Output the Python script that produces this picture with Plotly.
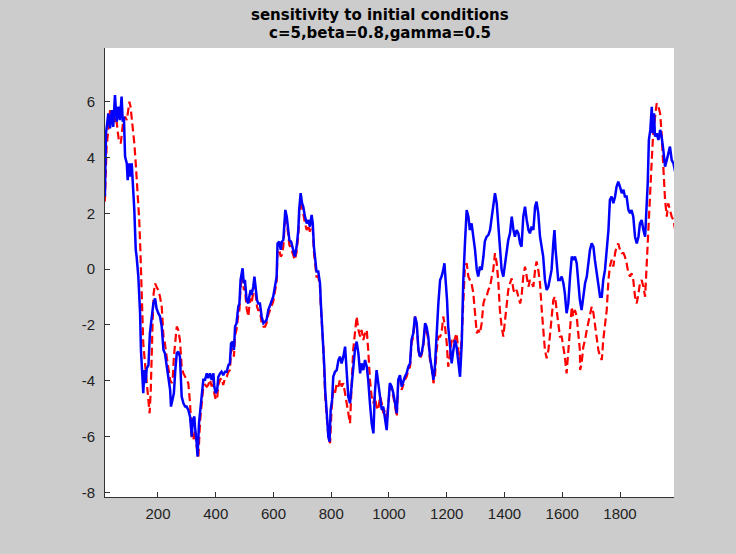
import plotly.graph_objects as go

# Trajectory 1 (solid blue): (time step, state value)
blue_points = [
    (16, 2.60), (20, 4.87), (28, 5.58), (34, 5.04), (40, 5.70), (45, 5.10), (51, 6.24),
    (57, 5.28), (63, 5.82), (68, 5.34), (74, 6.18), (78, 5.28), (82, 5.46), (86, 4.03),
    (92, 3.79), (95, 3.19), (101, 3.79), (105, 3.31), (109, 3.79), (115, 2.72), (118, 2.12),
    (123, 0.69), (126, 0.45), (132, -0.27), (138, -1.58), (141, -2.90), (145, -3.86),
    (149, -4.45), (153, -3.62), (157, -4.09), (161, -3.56), (167, -3.44), (172, -2.30),
    (178, -1.82), (184, -1.23), (190, -1.05), (195, -1.41), (201, -1.58), (207, -1.70),
    (213, -2.06), (219, -2.90), (224, -3.02), (230, -3.50), (236, -3.86), (242, -4.33),
    (245, -4.93), (251, -4.69), (255, -4.45), (260, -3.62), (265, -3.02), (270, -2.96),
    (276, -3.14), (282, -4.57), (288, -4.81), (294, -4.93), (299, -4.93), (305, -5.05),
    (311, -5.29), (317, -6.01), (320, -5.41), (326, -5.29), (328, -5.65), (334, -6.24),
    (337, -6.72), (342, -5.53), (349, -4.81), (354, -4.45), (357, -3.97), (363, -3.97),
    (369, -3.74), (374, -3.91), (380, -3.74), (386, -3.97), (392, -3.74), (395, -4.21),
    (400, -4.45), (405, -4.33), (409, -3.86), (415, -3.74), (420, -3.68), (426, -3.80),
    (432, -3.68), (438, -3.68), (444, -3.44), (449, -3.38), (453, -2.66), (459, -2.60),
    (463, -2.90), (467, -2.06), (472, -1.94), (478, -1.35), (482, -1.23), (486, -0.39),
    (490, -0.03), (493, 0.03), (497, -0.51), (501, -0.39), (507, -1.11), (513, -1.23),
    (516, -0.99), (521, -0.75), (524, -0.93), (530, -0.63), (534, -0.27), (538, -0.63),
    (543, -1.11), (547, -1.23), (553, -1.23), (559, -1.70), (565, -1.94), (571, -1.88),
    (576, -1.82), (582, -1.47), (588, -1.29), (594, -1.11), (599, -0.99), (605, -0.63),
    (611, -0.27), (614, 0.92), (620, 0.98), (625, 0.69), (629, 0.98), (634, 1.04),
    (637, 1.76), (641, 2.12), (646, 1.88), (651, 1.40), (655, 1.04), (661, 0.98),
    (665, 0.80), (670, 0.69), (674, 0.45), (680, 0.80), (686, 1.40), (689, 2.12),
    (694, 2.72), (699, 2.36), (703, 2.24), (709, 1.88), (715, 1.64), (721, 1.76),
    (726, 1.52), (732, 1.94), (736, 1.64), (740, 0.80), (745, 0.33), (749, -0.09),
    (755, -0.09), (761, -0.51), (764, -1.23), (768, -1.94), (773, -2.78), (776, -3.50),
    (779, -4.33), (784, -5.17), (790, -6.01), (794, -6.19), (798, -5.05), (803, -4.69),
    (807, -3.86), (813, -3.68), (819, -3.62), (825, -3.26), (830, -3.14), (836, -3.38),
    (842, -3.14), (848, -2.78), (853, -3.62), (859, -4.57), (865, -4.81), (871, -4.09),
    (876, -3.62), (882, -2.90), (888, -2.60), (894, -3.02), (900, -3.74), (905, -3.38),
    (911, -3.62), (917, -3.26), (923, -3.50), (928, -3.97), (934, -4.81), (940, -5.53),
    (946, -5.89), (951, -4.45), (957, -3.62), (963, -4.09), (969, -4.69), (975, -5.05),
    (980, -4.93), (986, -5.29), (992, -5.77), (998, -4.81), (1003, -4.09), (1009, -4.21),
    (1015, -4.45), (1021, -4.81), (1027, -5.17), (1032, -3.97), (1038, -3.80), (1044, -4.21),
    (1050, -3.97), (1055, -3.86), (1061, -3.74), (1067, -3.50), (1073, -3.38), (1078, -2.54),
    (1084, -2.30), (1090, -1.70), (1096, -1.94), (1102, -2.90), (1107, -3.14), (1113, -3.02),
    (1119, -2.66), (1125, -1.94), (1130, -2.06), (1136, -2.42), (1142, -3.14), (1148, -3.62),
    (1154, -3.97), (1159, -3.50), (1165, -2.18), (1171, -1.23), (1177, -0.39), (1182, -0.27),
    (1188, -0.03), (1192, 0.21), (1196, -0.39), (1201, -1.11), (1205, -2.06), (1211, -2.78),
    (1217, -3.38), (1223, -2.90), (1229, -2.54), (1234, -2.78), (1240, -3.38), (1246, -3.86),
    (1252, -2.66), (1257, -0.51), (1263, 0.92), (1269, 2.12), (1275, 1.88), (1280, 1.40),
    (1286, 1.64), (1292, 1.16), (1298, 0.69), (1304, -0.03), (1309, -0.27), (1315, 0.09),
    (1321, -0.03), (1327, 0.45), (1332, 1.00), (1338, 1.16), (1344, 1.22), (1350, 1.40),
    (1356, 1.88), (1361, 2.24), (1367, 2.72), (1373, 2.36), (1379, 1.40), (1384, 0.80),
    (1390, -0.03), (1396, -0.27), (1402, 0.21), (1407, 0.69), (1413, 1.04), (1419, 1.28),
    (1425, 1.88), (1431, 1.40), (1436, 1.16), (1442, 1.40), (1448, 1.28), (1454, 0.92),
    (1459, 0.80), (1465, 1.88), (1471, 2.24), (1477, 1.76), (1483, 1.40), (1488, 1.28),
    (1494, 1.52), (1500, 1.40), (1506, 2.24), (1511, 2.42), (1517, 2.00), (1523, 1.16),
    (1529, 0.80), (1534, 0.45), (1540, -0.39), (1546, -0.75), (1552, -0.63), (1557, -0.39),
    (1563, -0.03), (1569, 0.92), (1573, 1.40), (1577, 0.69), (1581, 0.09), (1586, -0.39),
    (1592, -0.39), (1598, -0.27), (1604, -0.51), (1609, -0.87), (1615, -1.58), (1621, -1.23),
    (1627, -0.27), (1633, 0.45), (1638, 0.33), (1644, 0.45), (1650, 0.21), (1656, -0.51),
    (1661, -1.11), (1667, -1.47), (1673, -0.87), (1679, -0.51), (1685, -0.27), (1690, 0.09),
    (1696, 0.69), (1702, 0.92), (1708, 0.80), (1713, 0.33), (1719, -0.15), (1725, -0.63),
    (1731, -0.99), (1737, -0.99), (1742, -0.39), (1748, -0.03), (1754, 0.57), (1760, 1.40),
    (1765, 2.48), (1771, 2.60), (1777, 2.36), (1783, 2.60), (1788, 2.95), (1794, 3.13),
    (1800, 2.95), (1806, 2.72), (1812, 2.84), (1817, 2.60), (1823, 2.60), (1829, 2.12),
    (1835, 2.00), (1840, 2.12), (1846, 1.88), (1852, 1.16), (1858, 0.92), (1864, 1.16),
    (1869, 1.64), (1875, 1.76), (1881, 1.40), (1887, 1.16), (1892, 2.24), (1896, 3.07),
    (1900, 4.63), (1905, 4.99), (1910, 5.82), (1913, 4.87), (1918, 5.58), (1921, 4.75),
    (1927, 4.87), (1933, 4.63), (1939, 4.99), (1944, 4.75), (1950, 4.27), (1956, 3.67),
    (1962, 3.91), (1967, 4.15), (1973, 4.39), (1979, 3.91), (1985, 3.79), (1991, 3.49),
]

# Trajectory 2 (dashed red), started from a slightly perturbed initial condition
red_points = [
    (16, 2.42), (22, 4.39), (28, 4.99), (34, 5.70), (37, 5.22), (43, 5.58), (49, 5.28),
    (55, 5.46), (60, 4.99), (65, 4.57), (71, 4.51), (75, 4.99), (80, 5.34), (86, 5.46),
    (92, 5.34), (97, 5.70), (101, 6.00), (105, 5.82), (110, 5.34), (115, 4.99), (118, 4.51),
    (123, 3.79), (126, 3.31), (131, 2.48), (135, 1.76), (139, 0.69), (142, -0.51),
    (146, -1.70), (149, -2.66), (153, -3.14), (157, -3.62), (162, -4.33), (167, -4.93),
    (171, -5.17), (175, -4.33), (178, -2.90), (182, -1.70), (185, -0.87), (190, -0.51),
    (195, -0.63), (201, -0.75), (207, -0.99), (213, -1.35), (219, -2.42), (224, -2.66),
    (230, -3.14), (236, -3.62), (242, -3.97), (247, -4.09), (251, -3.97), (255, -3.14),
    (260, -2.42), (265, -2.06), (270, -2.18), (276, -2.54), (282, -3.50), (288, -3.74),
    (294, -3.86), (299, -3.97), (305, -4.09), (311, -4.81), (317, -6.01), (322, -6.13),
    (328, -5.77), (334, -6.36), (340, -6.72), (346, -5.41), (349, -5.05), (354, -4.57),
    (357, -4.21), (363, -4.15), (369, -4.21), (374, -4.15), (380, -3.97), (386, -4.21),
    (392, -3.97), (395, -4.45), (400, -4.69), (405, -4.63), (409, -4.15), (415, -3.97),
    (420, -3.91), (426, -4.15), (432, -3.91), (438, -3.86), (444, -3.68), (449, -3.62),
    (453, -2.96), (459, -2.84), (463, -3.14), (467, -2.36), (472, -2.18), (478, -1.64),
    (482, -1.47), (486, -0.63), (490, -0.27), (493, -0.21), (497, -0.75), (501, -0.69),
    (507, -1.41), (513, -1.70), (516, -1.35), (521, -1.05), (524, -1.23), (530, -0.87),
    (534, -0.57), (538, -0.87), (543, -1.35), (547, -1.47), (553, -1.47), (559, -1.94),
    (565, -2.06), (571, -2.06), (576, -1.94), (582, -1.64), (588, -1.47), (594, -1.29),
    (599, -1.17), (605, -0.81), (611, -0.45), (614, 0.69), (620, 0.69), (625, 0.45),
    (629, 0.51), (634, 0.80), (637, 1.58), (641, 1.94), (646, 1.70), (651, 1.16),
    (655, 0.86), (661, 0.74), (665, 0.57), (670, 0.45), (674, 0.33), (680, 0.62),
    (686, 1.22), (689, 1.94), (694, 2.48), (699, 2.12), (703, 2.00), (709, 1.64),
    (715, 1.40), (721, 1.58), (726, 1.34), (732, 1.76), (736, 1.46), (740, 0.62),
    (745, 0.15), (749, -0.27), (755, -0.27), (761, -0.63), (764, -1.35), (768, -2.06),
    (773, -2.90), (779, -4.57), (784, -5.17), (790, -6.01), (796, -6.24), (801, -5.05),
    (807, -4.33), (813, -4.45), (819, -4.09), (825, -4.21), (830, -3.97), (836, -4.21),
    (842, -4.09), (848, -4.45), (853, -4.69), (859, -5.05), (865, -5.53), (871, -4.09),
    (876, -2.90), (882, -2.30), (888, -1.70), (894, -2.18), (900, -2.42), (905, -2.18),
    (911, -2.54), (917, -2.30), (923, -2.18), (928, -2.90), (934, -3.97), (940, -4.57),
    (946, -4.81), (951, -4.57), (957, -4.93), (963, -5.05), (969, -4.57), (975, -4.81),
    (980, -5.17), (986, -5.05), (992, -5.41), (998, -4.81), (1003, -4.21), (1009, -4.33),
    (1015, -4.57), (1021, -4.93), (1027, -5.29), (1032, -4.09), (1038, -3.91), (1044, -4.33),
    (1050, -4.09), (1055, -3.97), (1061, -3.86), (1067, -3.62), (1073, -3.50), (1078, -2.66),
    (1084, -2.42), (1090, -1.70), (1096, -2.00), (1102, -2.90), (1107, -3.20), (1113, -3.08),
    (1119, -2.72), (1125, -2.06), (1130, -2.18), (1136, -2.54), (1142, -3.26), (1148, -3.50),
    (1154, -4.09), (1159, -3.86), (1165, -2.90), (1171, -2.42), (1177, -2.42), (1182, -2.30),
    (1188, -1.70), (1194, -2.06), (1200, -2.66), (1205, -3.50), (1211, -3.14), (1217, -2.54),
    (1223, -2.66), (1229, -2.42), (1234, -2.30), (1240, -2.90), (1246, -3.26), (1252, -2.42),
    (1257, -0.99), (1263, 0.09), (1269, 0.21), (1275, -0.27), (1280, -0.39), (1286, -0.51),
    (1292, -0.87), (1298, -1.70), (1304, -2.30), (1309, -2.18), (1315, -2.30), (1321, -1.94),
    (1327, -1.23), (1332, -1.05), (1338, -0.99), (1344, -0.75), (1350, -0.63), (1356, -0.27),
    (1361, -0.03), (1367, 0.57), (1373, 0.21), (1379, -0.51), (1384, -1.47), (1390, -2.06),
    (1396, -2.42), (1402, -1.82), (1407, -1.23), (1413, -0.75), (1419, -0.51), (1425, -0.33),
    (1431, -0.75), (1436, -0.87), (1442, -0.75), (1448, -0.99), (1454, -1.23), (1459, -0.99),
    (1465, -0.27), (1471, 0.09), (1477, -0.27), (1483, -0.63), (1488, -0.39), (1494, -0.51),
    (1500, -0.63), (1506, -0.03), (1511, 0.27), (1517, -0.03), (1523, -0.51), (1529, -1.47),
    (1534, -2.30), (1540, -2.90), (1546, -3.20), (1552, -2.90), (1557, -2.42), (1563, -1.70),
    (1569, -1.11), (1575, -0.99), (1581, -1.58), (1586, -1.94), (1592, -2.42), (1598, -2.42),
    (1604, -2.78), (1609, -3.14), (1615, -3.74), (1621, -2.90), (1627, -1.94), (1633, -1.35),
    (1638, -1.70), (1644, -1.47), (1650, -1.70), (1656, -2.42), (1661, -2.90), (1662, -3.62),
    (1667, -3.38), (1673, -2.78), (1679, -2.54), (1685, -2.18), (1690, -1.94), (1696, -1.58),
    (1702, -1.35), (1708, -1.58), (1713, -1.94), (1719, -2.54), (1725, -2.90), (1731, -3.14),
    (1737, -3.26), (1742, -2.54), (1748, -2.06), (1754, -1.47), (1760, -0.39), (1765, 0.09),
    (1771, 0.33), (1777, 0.09), (1783, 0.57), (1788, 0.80), (1794, 0.92), (1800, 0.69),
    (1806, 0.57), (1812, 0.57), (1817, 0.45), (1823, 0.21), (1829, -0.15), (1835, -0.27),
    (1840, -0.15), (1846, -0.39), (1852, -0.99), (1858, -1.23), (1864, -0.87), (1869, -0.51),
    (1875, -0.39), (1881, -0.63), (1887, -0.99), (1892, 0.21), (1900, 1.64), (1905, 2.72),
    (1910, 3.91), (1915, 4.87), (1921, 5.46), (1927, 5.94), (1933, 5.82), (1939, 5.58),
    (1944, 4.87), (1950, 3.67), (1956, 2.48), (1962, 1.88), (1967, 2.36), (1973, 2.12),
    (1979, 1.88), (1985, 1.76), (1991, 1.40),
]

x_ticks = [200, 400, 600, 800, 1000, 1200, 1400, 1600, 1800]
y_ticks = [-8, -6, -4, -2, 0, 2, 4, 6]
y_tick_labels = ["-8", "-6", "-4", "-2", "0", "2", "4", "6"]

title_lines = ["sensitivity to initial conditions", "c=5,beta=0.8,gamma=0.5"]

blue_t, blue_v = zip(*blue_points)
red_t, red_v = zip(*red_points)

fig = go.Figure()
fig.add_trace(go.Scatter(
    x=list(red_t), y=list(red_v), mode="lines",
    line=dict(color="#FF0000", width=2.2, dash="8px,4px"),
    showlegend=False, hoverinfo="skip",
))
fig.add_trace(go.Scatter(
    x=list(blue_t), y=list(blue_v), mode="lines",
    line=dict(color="#0000FF", width=2.5),
    showlegend=False, hoverinfo="skip",
))

tick_font = dict(family="Liberation Sans, Arial, sans-serif", size=15, color="#222222")
title_font = dict(family="DejaVu Sans, Verdana, sans-serif", size=15, color="#000000")

# Two-line bold title placed above the axes (paper y > 1)
title_y = [1.0735, 1.0334]
for line, yy in zip(title_lines, title_y):
    fig.add_annotation(
        text=f"<b>{line}</b>", xref="paper", yref="paper",
        x=(380 - 105) / 569, y=yy, xanchor="center", yanchor="middle",
        showarrow=False, font=title_font,
    )

fig.update_layout(
    width=736, height=554,
    paper_bgcolor="#CCCCCC", plot_bgcolor="#FFFFFF",
    margin=dict(l=105, r=62, t=48, b=57, pad=0),
    xaxis=dict(
        range=[16.5, 1987], tickvals=x_ticks, ticks="inside", ticklen=5,
        tickcolor="#333333", showline=True, linecolor="#333333", linewidth=1,
        showgrid=False, zeroline=False, mirror=False, tickfont=tick_font,
        ticklabelstandoff=3,
    ),
    yaxis=dict(
        range=[-8.17, 7.925], tickvals=y_ticks, ticktext=y_tick_labels, ticks="inside",
        ticklen=5, tickcolor="#333333", showline=True, linecolor="#333333", linewidth=1,
        showgrid=False, zeroline=False, mirror=False, tickfont=tick_font,
        ticklabelstandoff=6,
    ),
)

fig.write_html("out.html")
